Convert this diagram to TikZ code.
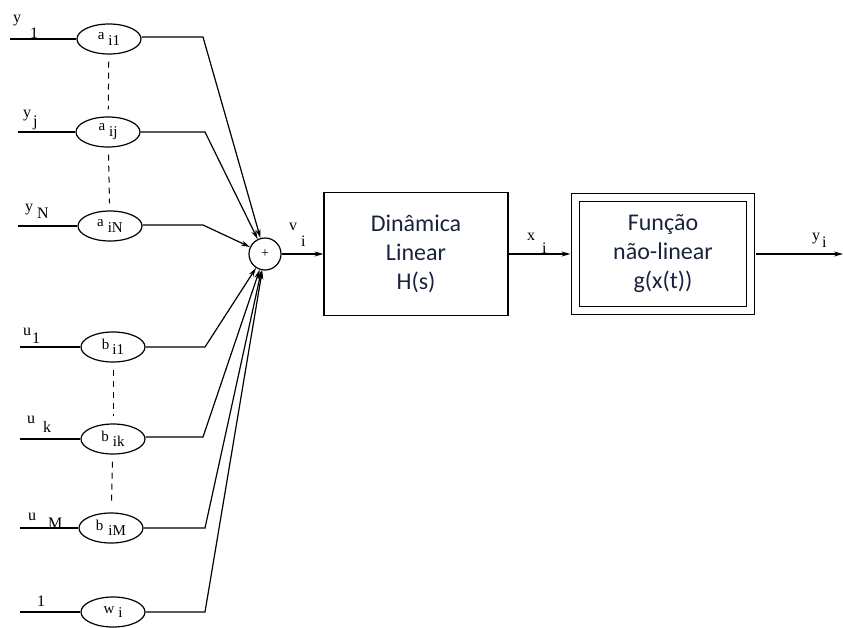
\documentclass[tikz,border=0pt]{standalone}
\usepackage{fontspec}
\newfontfamily\boxfont{Carlito}
\newfontfamily\lblfont{Liberation Serif}
\usetikzlibrary{shapes.geometric, arrows.meta}
\definecolor{boxtext}{RGB}{25,35,60}
% base letter with a spaced, lowered index: drop, gap, base, index
\newcommand{\sublbl}[4]{#3\hspace{#2}\raisebox{-#1}{#4}}
\tikzset{
>={Stealth[length=9pt, width=5pt]}, % arrow heads
weight/.style={ellipse, draw, line width=1.2pt, minimum width=64pt, minimum height=30pt, inner sep=0pt, font=\lblfont\fontsize{15}{17}\selectfont},
sumnode/.style={circle, draw, line width=1.2pt, minimum size=32pt, inner sep=0pt, font=\lblfont\fontsize{14}{16}\selectfont},
block/.style={draw, line width=1.2pt, align=center, text=boxtext, font=\boxfont\fontsize{24}{29}\selectfont},
wire/.style={line width=1.2pt},
link/.style={line width=1.2pt, ->},
gap/.style={line width=1pt, dash pattern=on 6pt off 5pt, shorten >=7pt, shorten <=7pt},
sig/.style={anchor=base west, inner sep=0pt, font=\lblfont\fontsize{16}{18}\selectfont},
}
\begin{document}
\begin{tikzpicture}[x=1pt, y=-1pt]
\useasboundingbox (0,0) rectangle (843,627);

% weight nodes
\node[weight] (ai1) at (109,39) {\sublbl{6pt}{4pt}{a}{i1}};
\node[weight] (aij) at (108,132) {\sublbl{6pt}{4pt}{a}{ij}};
\node[weight] (aiN) at (110,226) {\sublbl{6pt}{4pt}{a}{iN}};
\node[weight] (bi1) at (113,347) {\sublbl{5pt}{3pt}{b}{i1}};
\node[weight] (bik) at (113,439) {\sublbl{5pt}{4pt}{b}{ik}};
\node[weight] (biM) at (111,528) {\sublbl{5pt}{5pt}{b}{iM}};
\node[weight] (wi) at (113,612) {\sublbl{4pt}{4pt}{w}{i}};

% summing junction and blocks
\node[sumnode] (sum) at (265,254) {+};
\node[block, minimum width=184pt, minimum height=123pt] (lin) at (416,254) {Dinâmica\\Linear\\H(s)};
\node[block, double, double distance=7.5pt, outer sep=5pt, minimum width=175pt, minimum height=113pt] (nonlin) at (663,254) {Função\\não-linear\\g(x(t))};

% free ends
\coordinate (y1in) at (10,39);
\coordinate (yjin) at (18,132);
\coordinate (yNin) at (18,226);
\coordinate (u1in) at (20,347);
\coordinate (ukin) at (20,439);
\coordinate (uMin) at (20,528);
\coordinate (onein) at (20,612);
\coordinate (yout) at (843,254);

% bends
\coordinate (ai1c) at (203,37);
\coordinate (aijc) at (205,132);
\coordinate (aiNc) at (203,225);
\coordinate (bi1c) at (205,347);
\coordinate (bikc) at (203,437);
\coordinate (biMc) at (205,528);
\coordinate (wic) at (205,612);

% inputs
\draw[wire] (y1in) -- (ai1);
\draw[wire] (yjin) -- (aij);
\draw[wire] (yNin) -- (aiN);
\draw[wire] (u1in) -- (bi1);
\draw[wire] (ukin) -- (bik);
\draw[wire] (uMin) -- (biM);
\draw[wire] (onein) -- (wi);

% dashed gaps between weights
\draw[gap] (ai1) -- (aij);
\draw[gap] (aij) -- (aiN);
\draw[gap] (bi1) -- (bik);
\draw[gap] (bik) -- (biM);

% into the sum
\draw[link] (ai1.east |- ai1c) -- (ai1c) -- (sum);
\draw[link] (aij.east) -- (aijc) -- (sum);
\draw[link] (aiN.east |- aiNc) -- (aiNc) -- (sum);
\draw[link] (bi1.east) -- (bi1c) -- (sum);
\draw[link] (bik.east |- bikc) -- (bikc) -- (sum);
\draw[link] (biM.east) -- (biMc) -- (sum);
\draw[link] (wi.east) -- (wic) -- (sum);

% forward path
\draw[link] (sum) -- (lin);
\draw[link] (lin) -- (nonlin);
\draw[link] (nonlin) -- (yout);

% signal labels
\node[sig] (y1lbl) at (13,22) {\sublbl{16pt}{9pt}{y}{1}};
\node[sig] (yjlbl) at (23,117) {\sublbl{9pt}{2pt}{y}{j}};
\node[sig] (yNlbl) at (25,211) {\sublbl{7pt}{4pt}{y}{N}};
\node[sig] (u1lbl) at (23,335) {\sublbl{8pt}{1pt}{u}{1}};
\node[sig] (uklbl) at (27,423) {\sublbl{9pt}{8pt}{u}{k}};
\node[sig] (uMlbl) at (28,520) {\sublbl{8pt}{12pt}{u}{M}};
\node[sig] (onelbl) at (37,606) {1};
\node[sig] (vilbl) at (289,230) {\sublbl{16pt}{4pt}{v}{i}};
\node[sig] (xilbl) at (527,240) {\sublbl{13pt}{7pt}{x}{i}};
\node[sig] (yilbl) at (812,240) {\sublbl{7pt}{2pt}{y}{i}};
\end{tikzpicture}
\end{document}
